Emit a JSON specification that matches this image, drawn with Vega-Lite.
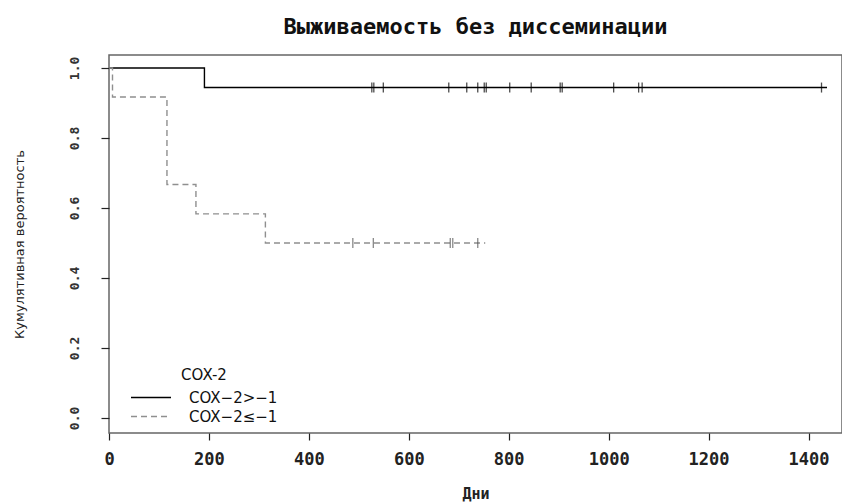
{
  "$schema": "https://vega.github.io/schema/vega-lite/v6.json",
  "autosize": "none",
  "width": 733,
  "height": 378,
  "padding": {"left": 109, "top": 55, "right": 0, "bottom": 69},
  "background": "white",
  "title": {
    "text": "Выживаемость без диссеминации",
    "font": "DejaVu Sans Mono",
    "fontSize": 22,
    "fontWeight": "bold",
    "color": "#111",
    "anchor": "middle",
    "baseline": "alphabetic",
    "offset": 24,
    "dy": 25
  },
  "datasets": {
    "curve": [
      {"group": "COX−2>−1", "day": 0, "surv": 1.0},
      {"group": "COX−2>−1", "day": 191, "surv": 0.944},
      {"group": "COX−2>−1", "day": 1437, "surv": 0.944},
      {"group": "COX−2≤−1", "day": 0, "surv": 1.0},
      {"group": "COX−2≤−1", "day": 7, "surv": 0.917},
      {"group": "COX−2≤−1", "day": 116, "surv": 0.667},
      {"group": "COX−2≤−1", "day": 174, "surv": 0.583},
      {"group": "COX−2≤−1", "day": 313, "surv": 0.5},
      {"group": "COX−2≤−1", "day": 753, "surv": 0.5}
    ],
    "cens": [
      {"group": "COX−2>−1", "day": 526, "surv": 0.944},
      {"group": "COX−2>−1", "day": 530, "surv": 0.944},
      {"group": "COX−2>−1", "day": 549, "surv": 0.944},
      {"group": "COX−2>−1", "day": 680, "surv": 0.944},
      {"group": "COX−2>−1", "day": 716, "surv": 0.944},
      {"group": "COX−2>−1", "day": 738, "surv": 0.944},
      {"group": "COX−2>−1", "day": 751, "surv": 0.944},
      {"group": "COX−2>−1", "day": 755, "surv": 0.944},
      {"group": "COX−2>−1", "day": 802, "surv": 0.944},
      {"group": "COX−2>−1", "day": 845, "surv": 0.944},
      {"group": "COX−2>−1", "day": 903, "surv": 0.944},
      {"group": "COX−2>−1", "day": 907, "surv": 0.944},
      {"group": "COX−2>−1", "day": 1010, "surv": 0.944},
      {"group": "COX−2>−1", "day": 1060, "surv": 0.944},
      {"group": "COX−2>−1", "day": 1067, "surv": 0.944},
      {"group": "COX−2>−1", "day": 1426, "surv": 0.944},
      {"group": "COX−2≤−1", "day": 488, "surv": 0.5},
      {"group": "COX−2≤−1", "day": 529, "surv": 0.5},
      {"group": "COX−2≤−1", "day": 683, "surv": 0.5},
      {"group": "COX−2≤−1", "day": 688, "surv": 0.5},
      {"group": "COX−2≤−1", "day": 738, "surv": 0.5}
    ]
  },
  "layer": [
    {
      "data": {"name": "curve"},
      "mark": {"type": "line", "interpolate": "step-after", "strokeWidth": 1.4},
      "encoding": {
        "x": {
          "field": "day", "type": "quantitative",
          "scale": {"domain": [0, 1467], "nice": false, "zero": false},
          "axis": {
            "title": "Дни",
            "values": [0, 200, 400, 600, 800, 1000, 1200, 1400],
            "format": "d",
            "domain": false,
            "grid": false,
            "tickSize": 7,
            "tickColor": "#222",
            "tickWidth": 1.2,
            "labelFont": "DejaVu Sans Mono",
            "labelFontSize": 17,
            "labelFontWeight": "bold",
            "labelColor": "#222",
            "labelPadding": 11,
            "labelBaseline": "top",
            "labelFlush": false,
            "titleFont": "DejaVu Sans Mono",
            "titleFontSize": 15,
            "titleFontWeight": "bold",
            "titleColor": "#222",
            "titleBaseline": "middle",
            "titleY": 60
          }
        },
        "y": {
          "field": "surv", "type": "quantitative",
          "scale": {"domain": [-0.043, 1.037], "nice": false, "zero": false},
          "axis": {
            "title": "Кумулятивная вероятность",
            "values": [0, 0.2, 0.4, 0.6, 0.8, 1.0],
            "format": ".1f",
            "domain": false,
            "grid": false,
            "tickSize": 8,
            "tickColor": "#222",
            "tickWidth": 1.2,
            "labelFont": "DejaVu Sans Mono",
            "labelFontSize": 13,
            "labelFontWeight": "bold",
            "labelColor": "#333",
            "labelAngle": 270,
            "labelAlign": "center",
            "labelBaseline": "bottom",
            "labelPadding": 20,
            "labelFlush": false,
            "titleFont": "DejaVu Sans",
            "titleFontSize": 13,
            "titleFontWeight": "normal",
            "titleColor": "#222",
            "titleAngle": 270,
            "titleBaseline": "middle",
            "titleX": -90
          }
        },
        "color": {
          "field": "group", "type": "nominal",
          "scale": {"domain": ["COX−2>−1", "COX−2≤−1"], "range": ["#000000", "#8f8f8f"]},
          "legend": {"title": "COX-2"}
        },
        "strokeDash": {
          "field": "group", "type": "nominal",
          "scale": {"domain": ["COX−2>−1", "COX−2≤−1"], "range": [[1, 0], [6, 4]]},
          "legend": {"title": "COX-2"}
        }
      }
    },
    {
      "data": {"name": "cens"},
      "mark": {"type": "tick", "orient": "vertical", "size": 10, "thickness": 1.3},
      "encoding": {
        "x": {"field": "day", "type": "quantitative"},
        "y": {"field": "surv", "type": "quantitative"},
        "fill": {
          "field": "group", "type": "nominal",
          "scale": {"domain": ["COX−2>−1", "COX−2≤−1"], "range": ["#000000", "#555555"]},
          "legend": null
        }
      }
    }
  ],
  "config": {
    "view": {"stroke": "#666666", "strokeWidth": 1.5},
    "legend": {
      "orient": "none",
      "legendX": 21,
      "legendY": 313,
      "padding": 0,
      "symbolType": "stroke",
      "symbolSize": 1600,
      "symbolStrokeWidth": 1.3,
      "clipHeight": 19,
      "rowPadding": 0,
      "labelOffset": 17,
      "labelFont": "DejaVu Sans",
      "labelFontSize": 15,
      "labelColor": "#111",
      "titleFont": "DejaVu Sans",
      "titleFontSize": 15,
      "titleFontWeight": "normal",
      "titleColor": "#111",
      "titleAnchor": "middle",
      "titlePadding": 5
    }
  }
}
